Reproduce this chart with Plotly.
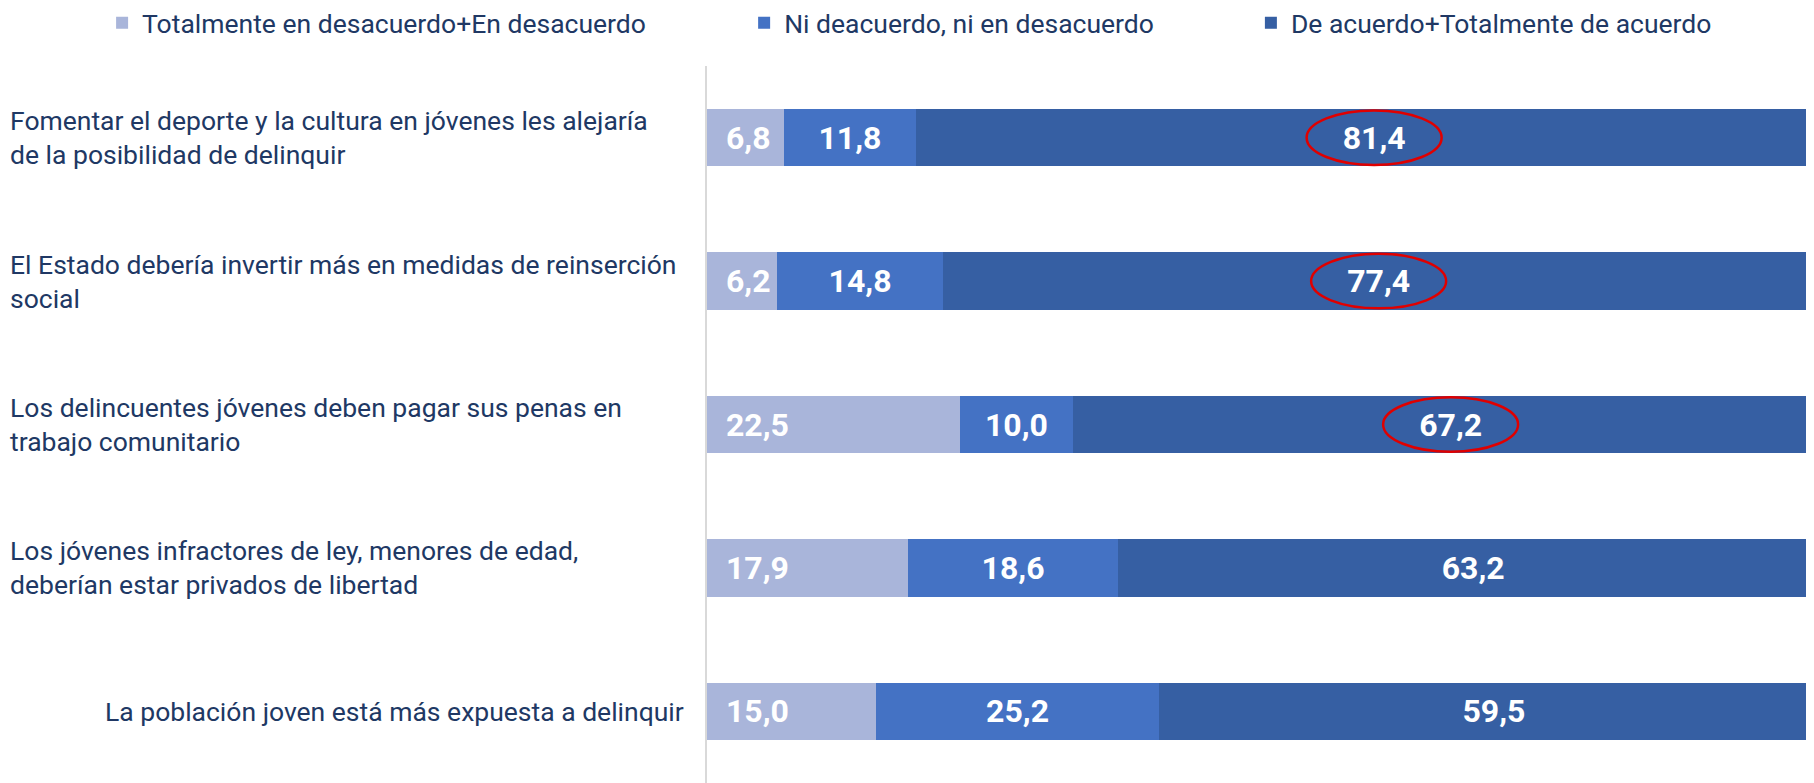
import plotly.graph_objects as go

# afirmaciones (de arriba hacia abajo)
statements = [
    "Fomentar el deporte y la cultura en jóvenes les alejaría<br>de la posibilidad de delinquir",
    "El Estado debería invertir más en medidas de reinserción<br>social",
    "Los delincuentes jóvenes deben pagar sus penas en<br>trabajo comunitario",
    "Los jóvenes infractores de ley, menores de edad,<br>deberían estar privados de libertad",
    "La población joven está más expuesta a delinquir",
]
series_names = [
    "Totalmente en desacuerdo+En desacuerdo",
    "Ni deacuerdo, ni en desacuerdo",
    "De acuerdo+Totalmente de acuerdo",
]
desacuerdo = [6.8, 6.2, 22.5, 17.9, 15.0]
neutral = [11.8, 14.8, 10.0, 18.6, 25.2]
acuerdo = [81.4, 77.4, 67.2, 63.2, 59.5]
highlighted = [0, 1, 2]  # filas con el valor de acuerdo marcado en rojo

colors = ["#A9B5DA", "#4472C4", "#365FA3"]
text_color = "#203864"
cats = [f"c{i}" for i in range(len(statements))]

fig = go.Figure()
legend_ids = ["legend", "legend2", "legend3"]
anchors = ["start", "middle", "middle"]
templates = ["\u00a0\u00a0%{x:.1f}", "%{x:.1f}", "%{x:.1f}"]
for vals, name, col, lg, anc, tpl in zip([desacuerdo, neutral, acuerdo], series_names,
                                          colors, legend_ids, anchors, templates):
    fig.add_trace(go.Bar(
        y=cats, x=vals, orientation="h", name=name, legend=lg, showlegend=True,
        marker=dict(color=col, line=dict(width=0)),
        texttemplate=tpl, textposition="inside", insidetextanchor=anc,
        textfont=dict(family="Roboto", size=32, color="white", weight="bold"),
    ))

# etiquetas de las afirmaciones
for i, s in enumerate(statements):
    if "<br>" in s:
        fig.add_annotation(x=-0.6314, xref="paper", y=i, yref="y", text=s, showarrow=False,
                           xanchor="left", align="left",
                           font=dict(family="Roboto", size=26.5, color=text_color))
    else:
        fig.add_annotation(x=-0.019, xref="paper", y=i, yref="y", text=s, showarrow=False,
                           xanchor="right", align="right",
                           font=dict(family="Roboto", size=26.5, color=text_color))

# elipses rojas
for i in highlighted:
    cx = desacuerdo[i] + neutral[i] + acuerdo[i] / 2
    fig.add_shape(type="circle", xref="x", yref="y",
                  x0=cx - 6, x1=cx + 6, y0=i - 0.19, y1=i + 0.19,
                  line=dict(color="#E00000", width=2.5))

legend_style = dict(orientation="h", xref="container", yref="container", y=0.9806,
                    yanchor="middle", font=dict(family="Roboto", size=26.5, color=text_color),
                    bgcolor="rgba(0,0,0,0)", traceorder="normal")
fig.update_layout(
    width=1806, height=775,
    margin=dict(l=699, r=0, t=58, b=0),
    barmode="stack", bargap=0.6,
    separators=",.",
    showlegend=True,
    plot_bgcolor="white", paper_bgcolor="white",
    uniformtext=dict(minsize=32, mode="show"),
    legend=dict(x=0.0521, **legend_style),
    legend2=dict(x=0.4076, **legend_style),
    legend3=dict(x=0.6882, **legend_style),
    xaxis=dict(range=[0, 98.4], visible=False, fixedrange=True),
    yaxis=dict(categoryarray=cats, categoryorder="array", range=[4.5, -0.5],
               showticklabels=False, showgrid=False, ticks="",
               showline=True, linecolor="#D9D9D9", linewidth=2, zeroline=False),
    font=dict(family="Roboto"),
)

fig.write_html("out.html")
